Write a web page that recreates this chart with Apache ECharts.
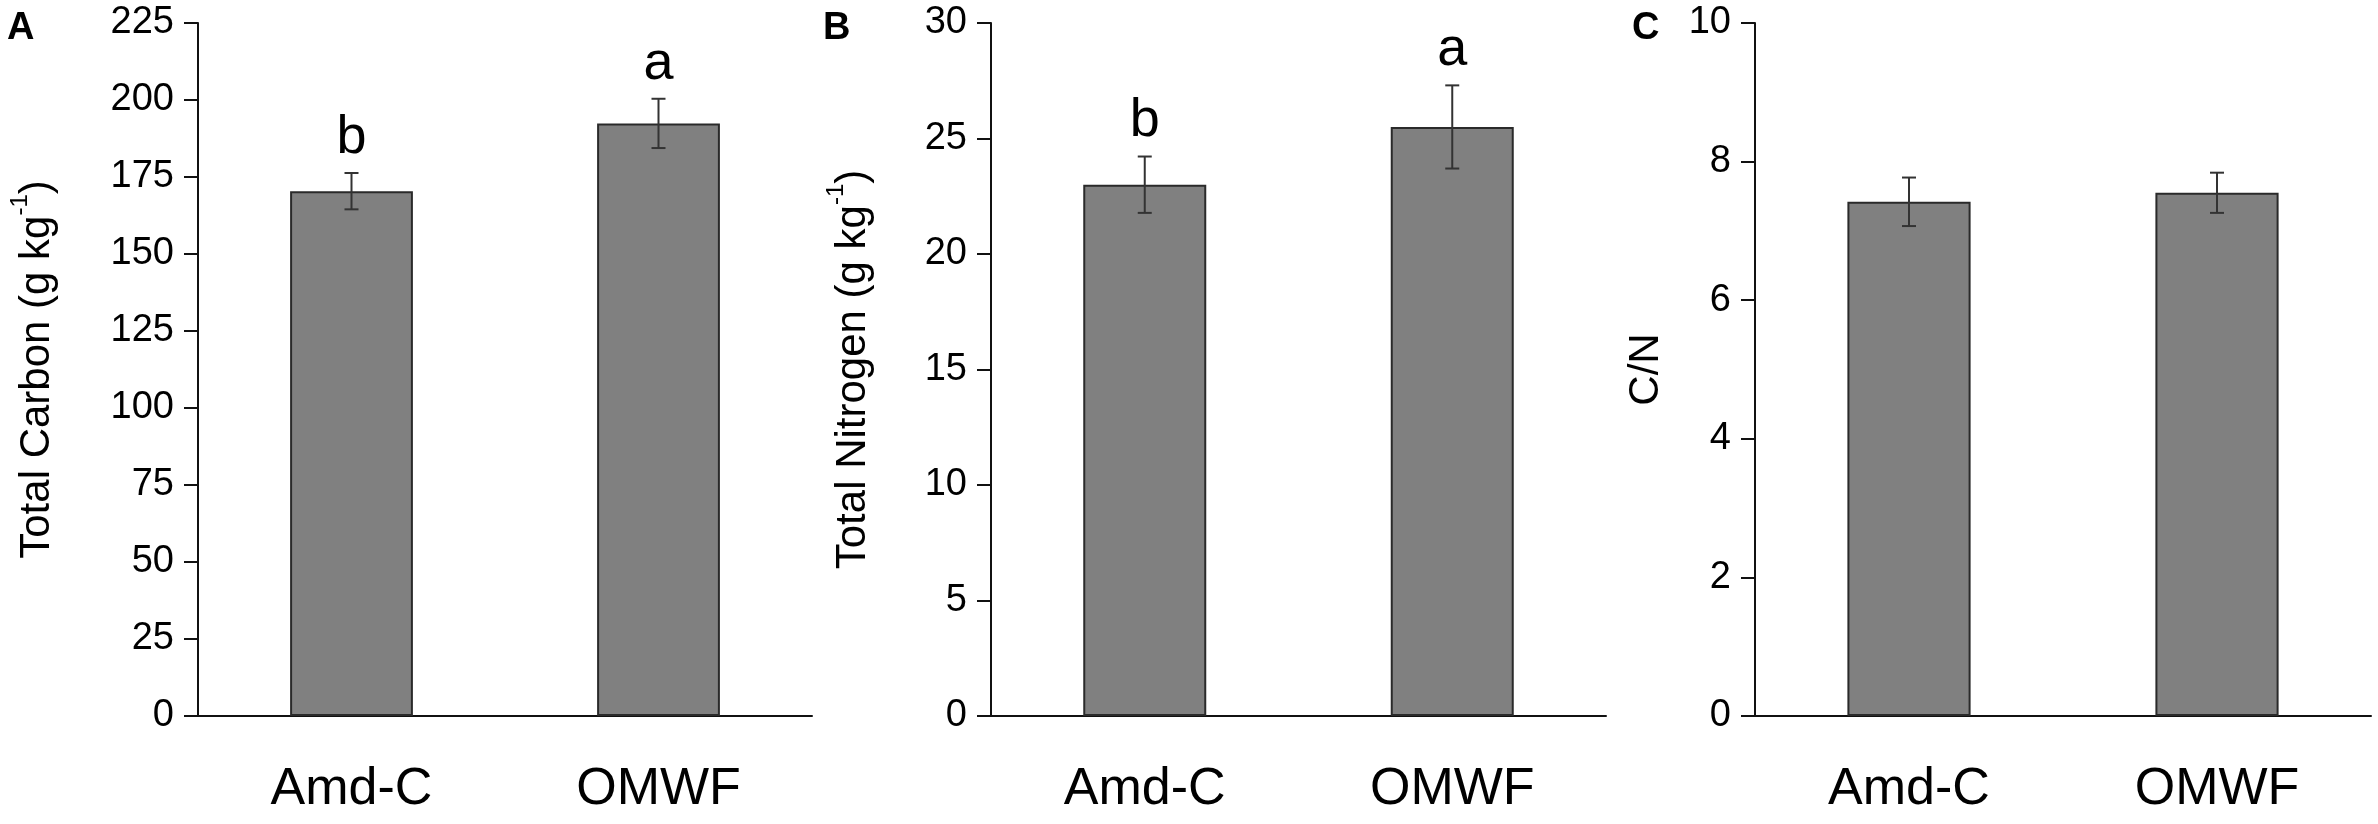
<!DOCTYPE html>
<html>
<head>
<meta charset="utf-8">
<script src="https://cdn.jsdelivr.net/npm/echarts@6/dist/echarts.min.js"></script>
<style>
    html, body { margin: 0; padding: 0; background: #fff; }
    #chart { width: 2378px; height: 824px; }
</style>
</head>
<body>
<div id="chart"></div>
<script>
// treatments
var groups = ['Amd-C', 'OMWF'];
// A - total carbon (g kg-1)
var carbon = [170.4, 192.4];
var carbonErr = [5.9, 8.0];
var carbonLetters = ['b', 'a'];
// B - total nitrogen (g kg-1)
var nitrogen = [23.0, 25.5];
var nitrogenErr = [1.22, 1.8];
var nitrogenLetters = ['b', 'a'];
// C - C/N ratio
var ratio = [7.42, 7.55];
var ratioErr = [0.35, 0.29];
var ratioLetters = ['', ''];
// y axis ranges [max, interval]
var carbonAxis = [225, 25];
var nitrogenAxis = [30, 5];
var ratioAxis = [10, 2];

var FONT = 'Liberation Sans, Arial, sans-serif';
var AXIS_COLOR = '#111';

function errData(vals, errs, letters) {
    var out = [];
    for (var i = 0; i < vals.length; i++) {
        out.push([i, vals[i] - errs[i], vals[i] + errs[i], letters[i]]);
    }
    return out;
}

// error bar + significance letter
function renderErr(params, api) {
    var lo = api.coord([api.value(0), api.value(1)]);
    var hi = api.coord([api.value(0), api.value(2)]);
    var cap = 7;
    var st = {stroke: '#333', lineWidth: 2};
    var kids = [
        {type: 'line', shape: {x1: hi[0], y1: hi[1], x2: lo[0], y2: lo[1]}, style: st},
        {type: 'line', shape: {x1: hi[0] - cap, y1: hi[1], x2: hi[0] + cap, y2: hi[1]}, style: st},
        {type: 'line', shape: {x1: lo[0] - cap, y1: lo[1], x2: lo[0] + cap, y2: lo[1]}, style: st}
    ];
    var letter = api.value(3);
    if (letter) {
        kids.push({
            type: 'text',
            style: {
                text: letter, x: hi[0], y: hi[1] - 35,
                align: 'center', verticalAlign: 'middle',
                font: '54px ' + FONT, fill: '#000'
            }
        });
    }
    return {type: 'group', children: kids};
}

function xAxisFor(i) {
    return {
        type: 'category', gridIndex: i, data: groups,
        axisLine: {lineStyle: {color: AXIS_COLOR, width: 2}},
        axisTick: {show: false},
        axisLabel: {color: '#000', fontSize: 52, fontFamily: FONT, margin: 48}
    };
}

function yAxisFor(i, range, name, gap) {
    return {
        type: 'value', gridIndex: i, min: 0, max: range[0], interval: range[1],
        name: name, nameLocation: 'middle', nameRotate: 90, nameGap: gap,
        nameTextStyle: {
            color: '#000', fontSize: 42, fontFamily: FONT, lineHeight: 58,
            rich: {sup: {fontSize: 24, lineHeight: 24, fontFamily: FONT, color: '#000', verticalAlign: 'top'}}
        },
        axisLine: {show: true, lineStyle: {color: AXIS_COLOR, width: 2}},
        axisTick: {show: true, length: 14, lineStyle: {color: AXIS_COLOR, width: 2}},
        axisLabel: {color: '#000', fontSize: 38, fontFamily: FONT, margin: 24},
        splitLine: {show: false}
    };
}

function barSeries(i, vals) {
    return {
        type: 'bar', xAxisIndex: i, yAxisIndex: i, data: vals, barWidth: '40%',
        itemStyle: {color: '#808080', borderColor: '#2a2a2a', borderWidth: 2},
        silent: true
    };
}

function errSeries(i, data) {
    return {
        type: 'custom', xAxisIndex: i, yAxisIndex: i, data: data,
        renderItem: renderErr, silent: true, z: 5
    };
}

var chart = echarts.init(document.getElementById('chart'));
var option = {
    backgroundColor: '#fff',
    animation: false,
    grid: [
        {left: 198, top: 23, width: 614, bottom: 108},
        {left: 991, top: 23, width: 615, bottom: 108},
        {left: 1755, top: 23, width: 616, bottom: 108}
    ],
    xAxis: [xAxisFor(0), xAxisFor(1), xAxisFor(2)],
    yAxis: [
        yAxisFor(0, carbonAxis, 'Total Carbon (g kg{sup|-1})', 132),
        yAxisFor(1, nitrogenAxis, 'Total Nitrogen (g kg{sup|-1})', 109),
        yAxisFor(2, ratioAxis, 'C/N', 80)
    ],
    graphic: [
        {type: 'text', left: 7, top: 10, style: {text: 'A', font: 'bold 38px ' + FONT, fill: '#000'}},
        {type: 'text', left: 823, top: 10, style: {text: 'B', font: 'bold 38px ' + FONT, fill: '#000'}},
        {type: 'text', left: 1632, top: 10, style: {text: 'C', font: 'bold 38px ' + FONT, fill: '#000'}}
    ],
    series: [
        barSeries(0, carbon),
        errSeries(0, errData(carbon, carbonErr, carbonLetters)),
        barSeries(1, nitrogen),
        errSeries(1, errData(nitrogen, nitrogenErr, nitrogenLetters)),
        barSeries(2, ratio),
        errSeries(2, errData(ratio, ratioErr, ratioLetters))
    ]
};
chart.setOption(option);
</script>
</body>
</html>
